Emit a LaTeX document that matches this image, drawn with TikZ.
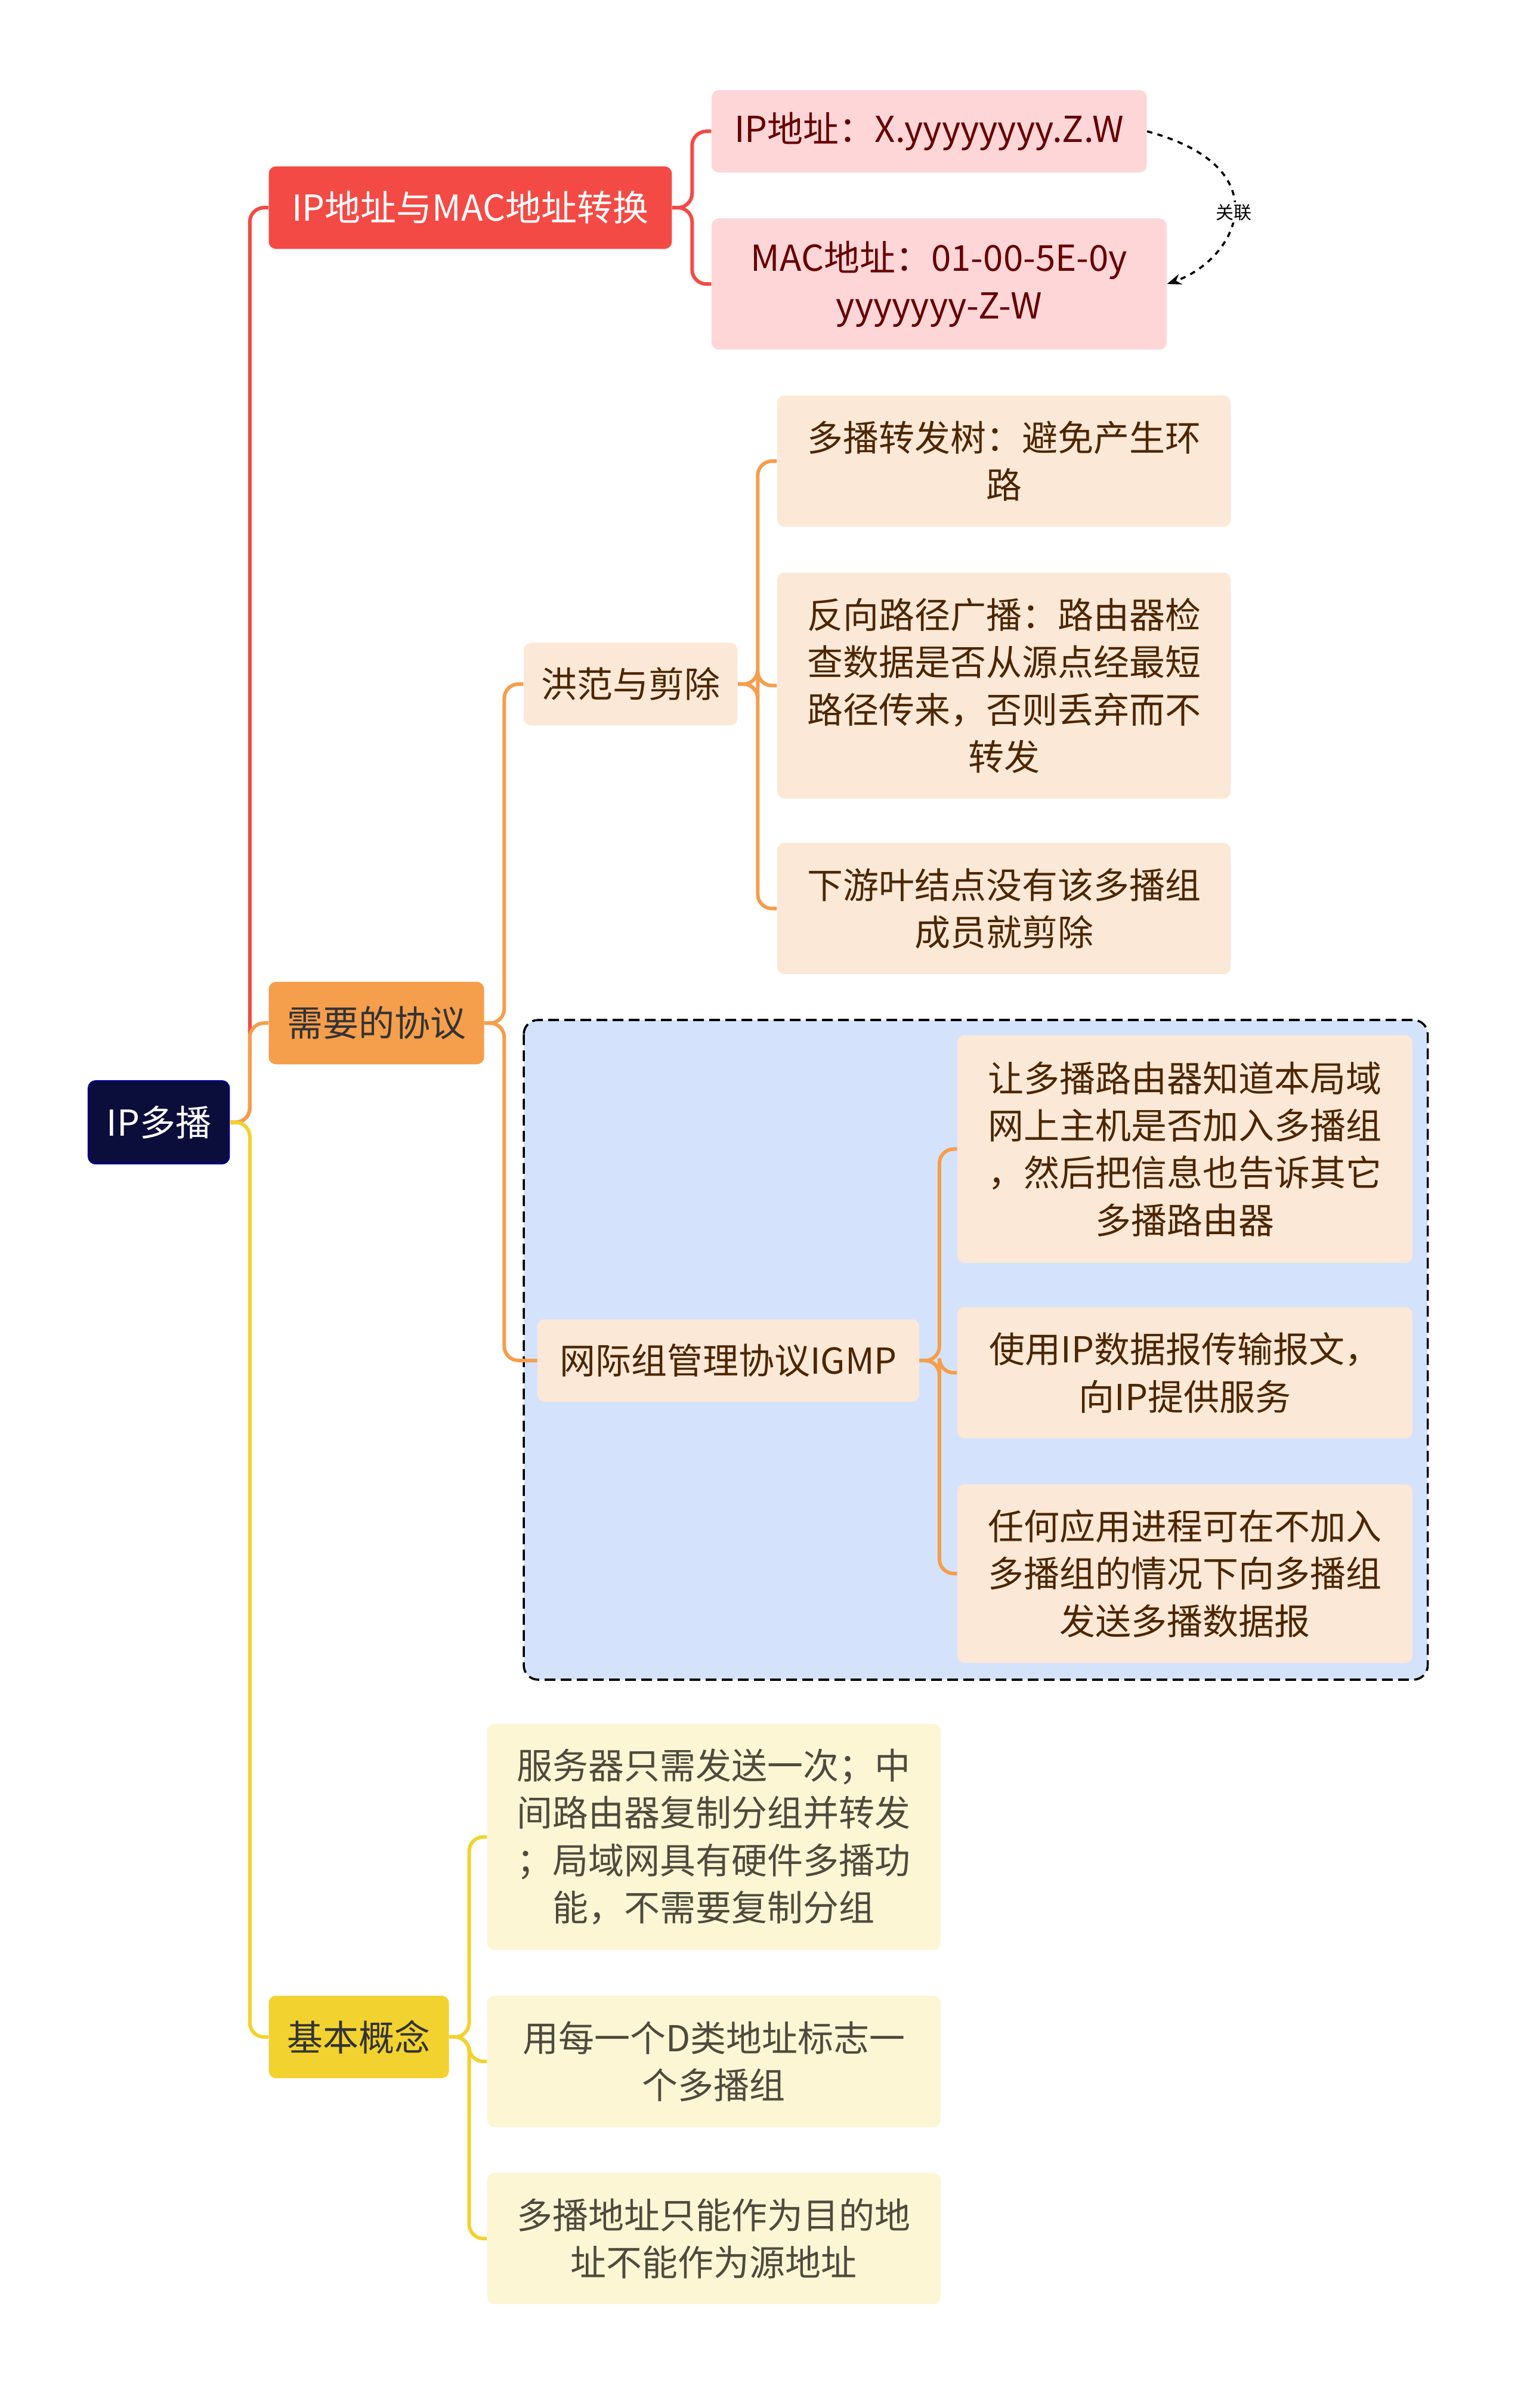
\documentclass[tikz,border=0pt]{standalone}
\usepackage{fontspec}
\setmainfont{Noto Sans CJK SC}
\usetikzlibrary{arrows.meta}
\definecolor{rootc}{HTML}{0B0D3A}
\definecolor{redc}{HTML}{F44A45}
\definecolor{redl}{HTML}{FFD6D8}
\definecolor{orc}{HTML}{F59E4C}
\definecolor{orl}{HTML}{FCE8D7}
\definecolor{yec}{HTML}{F2D22E}
\definecolor{yel}{HTML}{FCF6D4}
\definecolor{bluel}{HTML}{D4E3FB}
\newcommand\bx[7]{\node[#6,minimum width={(#4-#2)*0.03cm},minimum height={(#5-#3)*0.03cm}] (#1) at ({(#2+#4)/2},{(#3+#5)/2}) {#7};}
\begin{document}
\begin{tikzpicture}[x=0.03cm,y=-0.03cm,
 base/.style={rounded corners=4pt,inner sep=0pt,align=center,font=\fontsize{20}{26.5}\selectfont},
 rootbox/.style={base,fill=rootc,draw=blue!50!black,line width=1pt,text=white},
 redbox/.style={base,fill=redc,text=white},
 redsub/.style={base,fill=redl,text=red!40!black},
 orbox/.style={base,fill=orc,text=black!80},
 orsub/.style={base,fill=orl,text=orange!30!black},
 yebox/.style={base,fill=yec,text=black!80},
 yesub/.style={base,fill=yel,text=yellow!20!black},
 link/.style={line width=2pt,rounded corners=8pt}]
\useasboundingbox (0,0) rectangle (1000,1577);
\fill[white] (0,0) rectangle (1000,1577);
\draw[dash pattern=on 6pt off 3pt,line width=1.2pt,fill=bluel,rounded corners=8pt] (343,668) rectangle (935,1100);
\bx{root}{58}{708}{150}{762}{rootbox}{IP多播}
\bx{a}{176}{109}{440}{163}{redbox}{IP地址与MAC地址转换}
\bx{a1}{466}{59}{751}{113}{redsub}{IP地址：X.yyyyyyyy.Z.W}
\bx{a2}{466}{143}{764}{229}{redsub}{MAC地址：01-00-5E-0y\\yyyyyyy-Z-W}
\bx{b}{176}{643}{317}{697}{orbox}{需要的协议}
\bx{b1}{343}{421}{483}{475}{orsub}{洪范与剪除}
\bx{b11}{509}{259}{806}{345}{orsub}{多播转发树：避免产生环\\路}
\bx{b12}{509}{375}{806}{523}{orsub}{反向路径广播：路由器检\\查数据是否从源点经最短\\路径传来，否则丢弃而不\\转发}
\bx{b13}{509}{552}{806}{638}{orsub}{下游叶结点没有该多播组\\成员就剪除}
\bx{b2}{352}{864}{602}{918}{orsub}{网际组管理协议IGMP}
\bx{b21}{627}{678}{925}{827}{orsub}{让多播路由器知道本局域\\网上主机是否加入多播组\\，然后把信息也告诉其它\\多播路由器}
\bx{b22}{627}{856}{925}{942}{orsub}{使用IP数据报传输报文，\\向IP提供服务}
\bx{b23}{627}{972}{925}{1089}{orsub}{任何应用进程可在不加入\\多播组的情况下向多播组\\发送多播数据报}
\bx{c}{176}{1307}{294}{1361}{yebox}{基本概念}
\bx{c1}{319}{1129}{616}{1277}{yesub}{服务器只需发送一次；中\\间路由器复制分组并转发\\；局域网具有硬件多播功\\能，不需要复制分组}
\bx{c2}{319}{1307}{616}{1393}{yesub}{用每一个D类地址标志一\\个多播组}
\bx{c3}{319}{1423}{616}{1509}{yesub}{多播地址只能作为目的地\\址不能作为源地址}
\draw[link,redc] (root.east) -- ++(13,0) |- (a.west);
\draw[link,orc] (root.east) -- ++(13,0) |- (b.west);
\draw[link,yec] (root.east) -- ++(13,0) |- (c.west);
\foreach \t in {a1,a2} \draw[link,redc] (a.east) -- ++(13,0) |- (\t.west);
\foreach \t in {b1,b2} \draw[link,orc] (b.east) -- ++(13,0) |- (\t.west);
\foreach \t in {b11,b12,b13} \draw[link,orc] (b1.east) -- ++(13,0) |- (\t.west);
\foreach \t in {b21,b22,b23} \draw[link,orc] (b2.east) -- ++(13,0) |- (\t.west);
\foreach \t in {c1,c2,c3} \draw[link,yec] (c.east) -- ++(13,0) |- (\t.west);
\draw[dashed,line width=1.2pt,-{Stealth[length=8pt]}] (a1.east) .. controls (840,110) and (810,170) .. (a2.east) node[pos=0.5,fill=white,inner sep=1pt,font=\fontsize{10}{12}\selectfont] {关联};
\end{tikzpicture}
\end{document}
